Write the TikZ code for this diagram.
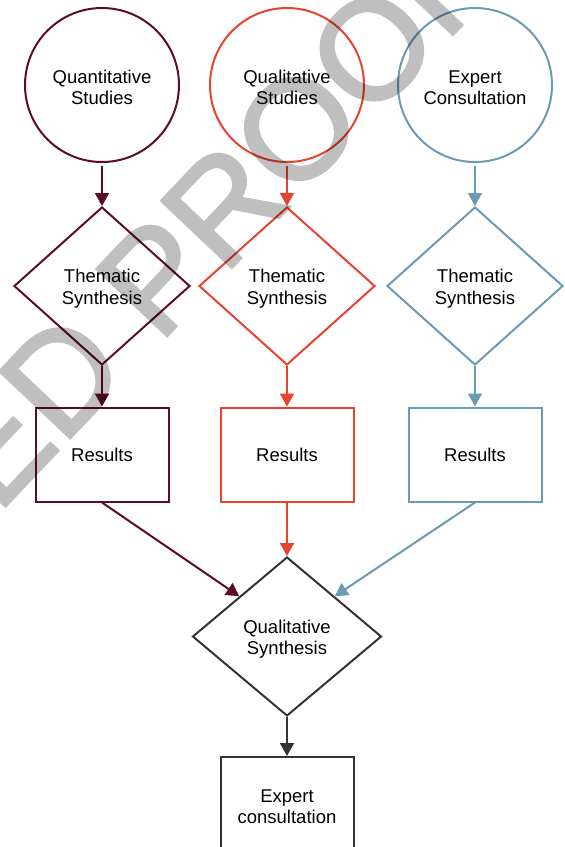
\documentclass[tikz,border=0pt]{standalone}
\usepackage{fontspec}
\setmainfont{Liberation Sans}
\newfontfamily\stampfont[FakeBold=2]{Liberation Sans}
\usetikzlibrary{shapes.geometric, arrows.meta, positioning}
\definecolor{quantmaroon}{RGB}{94, 10, 42}
\definecolor{qualred}{RGB}{232, 67, 47}
\definecolor{expertblue}{RGB}{107, 154, 180}
\definecolor{synthgray}{RGB}{51, 51, 51}
\newcommand{\topline}{\rule{0pt}{18.5pt}}

\begin{document}
\begin{tikzpicture}[x=1pt, y=1pt,
  txt/.style={font=\fontsize{18.5}{21.6}\selectfont, align=center, text=black},
  source/.style={txt, circle, draw=#1, line width=2pt, minimum size=154pt, inner sep=0pt},
  synth/.style={txt, diamond, draw=#1, line width=2pt, minimum width=176pt, minimum height=158pt, inner sep=0pt},
  result/.style={txt, rectangle, draw=#1, line width=2pt, minimum width=133pt, minimum height=94pt, inner sep=0pt},
  flow/.style={draw=#1, line width=2pt, -{Triangle[length=13pt, width=14pt]}}
]
\useasboundingbox (0,0) rectangle (565,-847);

% Sources
\node[source=quantmaroon] (quant) at (102,-85) {\topline Quantitative\\Studies};
\node[source=qualred] (qual) at (287,-85) {\topline Qualitative\\Studies};
\node[source=expertblue] (expert) at (475,-85) {\topline Expert\\Consultation};

% Thematic synthesis per source
\node[synth=quantmaroon] (tsquant) at (102,-286) {\topline Thematic\\Synthesis};
\node[synth=qualred] (tsqual) at (287,-286) {\topline Thematic\\Synthesis};
\node[synth=expertblue] (tsexpert) at (475,-286) {\topline Thematic\\Synthesis};

% Results
\node[result=quantmaroon] (resquant) at (102,-454.5) {Results};
\node[result=qualred] (resqual) at (287,-454.5) {Results};
\node[result=expertblue] (resexpert) at (475,-454.5) {Results};

% Final synthesis
\node[synth=synthgray, minimum width=189pt, minimum height=159pt] (qs) at (287,-636.5) {\topline Qualitative\\Synthesis};
\node[result=synthgray] (consult) at (287,-804) {\topline Expert\\consultation};

% Arrows
\draw[flow=quantmaroon] ([yshift=-3pt]quant.south) -- (tsquant.north);
\draw[flow=qualred] ([yshift=-3pt]qual.south) -- (tsqual.north);
\draw[flow=expertblue] ([yshift=-3pt]expert.south) -- (tsexpert.north);

\draw[flow=quantmaroon] (tsquant.south) -- (resquant.north);
\draw[flow=qualred] (tsqual.south) -- (resqual.north);
\draw[flow=expertblue] (tsexpert.south) -- (resexpert.north);

\draw[flow=quantmaroon] (resquant.south) -- (qs.north west);
\draw[flow=qualred] (resqual.south) -- (qs.north);
\draw[flow=expertblue] (resexpert.south) -- (qs.north east);

\draw[flow=synthgray] (qs.south) -- (consult.north);

% Watermark
\begin{scope}[transparency group, opacity=0.25]
\node[font=\stampfont\fontsize{141}{141}\selectfont, text=black, rotate=46.5, anchor=base east, inner sep=0pt] (stamp) at (504.5,19.8) {ED PROOF};
\end{scope}
\end{tikzpicture}
\end{document}
